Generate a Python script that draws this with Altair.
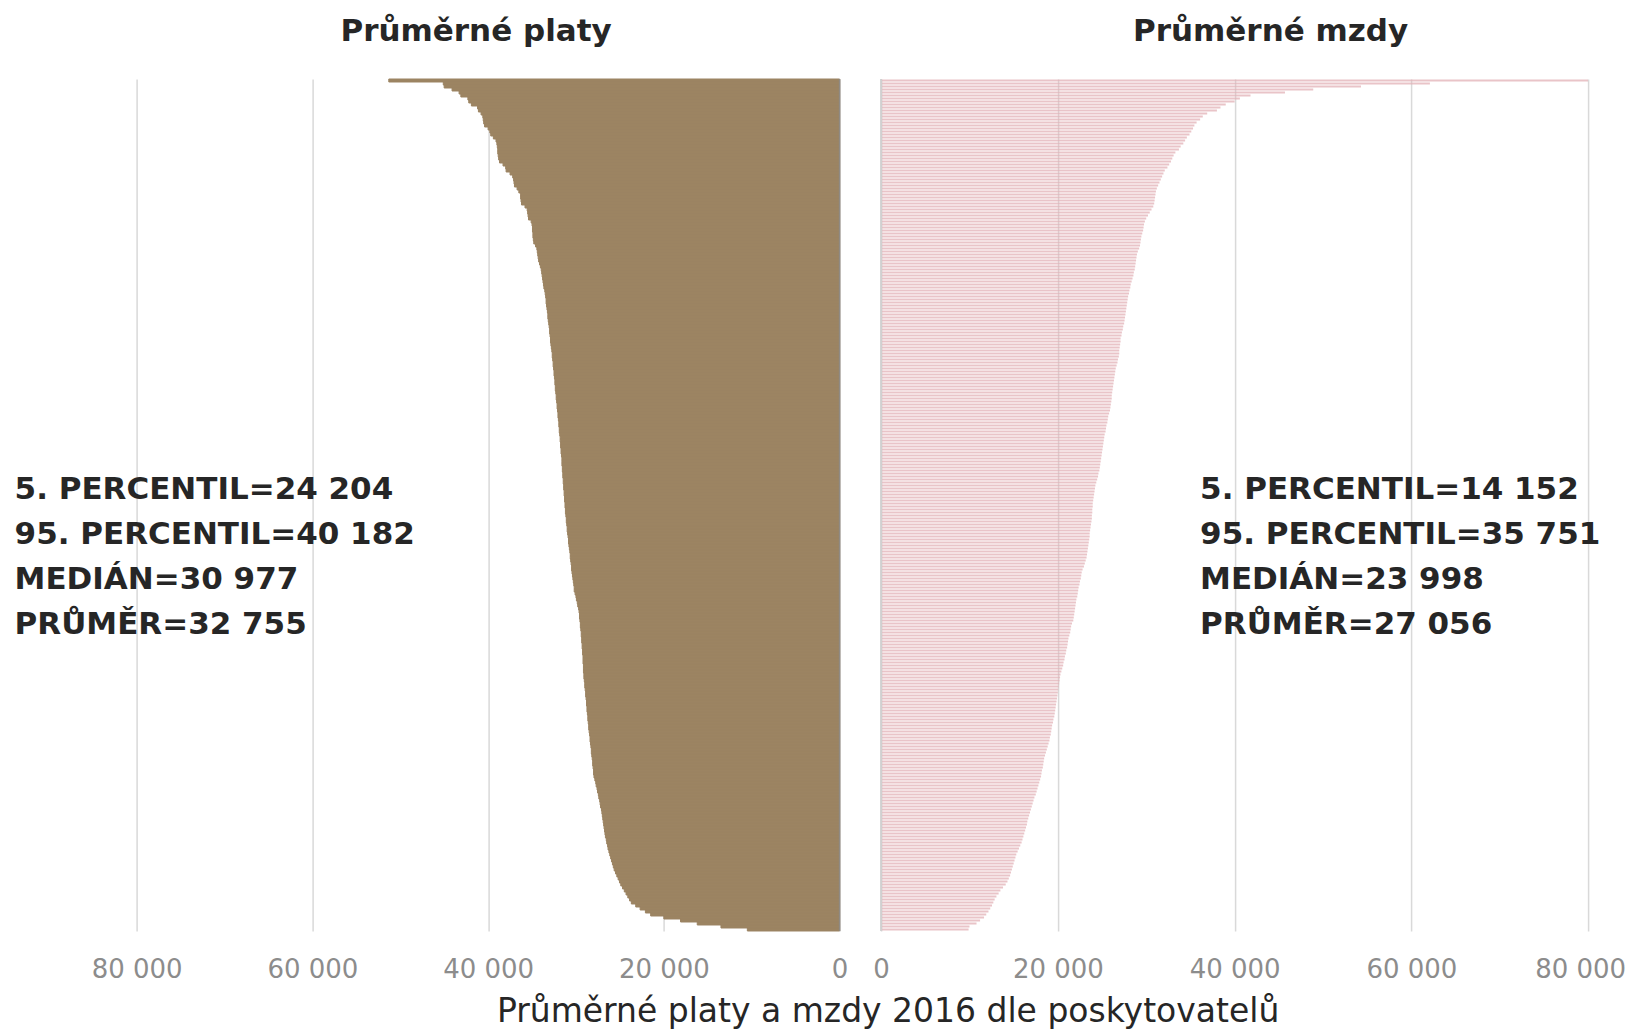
import altair as alt
import pandas as pd

# Average salaries by provider (left, "platy"), sorted descending
platy = [51300, 45100, 45000, 44100, 43300, 43100, 42300, 42200, 41900, 41200,
         41100, 40800, 40600, 40550, 40500, 40400, 40000, 39800, 39700, 39400,
         39100, 39000, 38950, 38900, 38900, 38850, 38800, 38700, 38300, 38000,
         37950, 37500, 37200, 37100, 37050, 37000, 36700, 36500, 36300, 36300,
         36250, 36200, 35800, 35550, 35500, 35450, 35400, 35100, 35000, 34950,
         34950, 34900, 34900, 34850, 34800, 34600, 34450, 34400, 34350, 34300,
         34250, 34150, 34050, 33950, 33900, 33850, 33800, 33750, 33700, 33650,
         33550, 33500, 33450, 33400, 33400, 33350, 33300, 33250, 33200, 33200,
         33150, 33100, 33050, 33000, 33000, 32950, 32900, 32900, 32850, 32800,
         32750, 32700, 32700, 32650, 32600, 32600, 32550, 32500, 32500, 32450,
         32400, 32400, 32350, 32350, 32300, 32250, 32250, 32200, 32150, 32150,
         32100, 32050, 32050, 32000, 31950, 31950, 31900, 31900, 31850, 31800,
         31800, 31750, 31750, 31700, 31700, 31650, 31600, 31600, 31600, 31550,
         31550, 31500, 31500, 31450, 31450, 31400, 31400, 31350, 31350, 31300,
         31300, 31250, 31250, 31200, 31200, 31150, 31100, 31100, 31050, 31000,
         31000, 30950, 30900, 30850, 30850, 30800, 30750, 30700, 30650, 30650,
         30600, 30550, 30500, 30500, 30450, 30400, 30350, 30300, 30250, 30200,
         30200, 30100, 30000, 29950, 29850, 29800, 29700, 29650, 29600, 29600,
         29550, 29500, 29500, 29450, 29400, 29400, 29350, 29350, 29300, 29300,
         29250, 29250, 29200, 29200, 29200, 29150, 29150, 29150, 29100, 29100,
         29050, 29000, 29000, 28950, 28900, 28900, 28850, 28800, 28800, 28750,
         28750, 28700, 28650, 28650, 28600, 28550, 28550, 28500, 28450, 28400,
         28400, 28350, 28300, 28250, 28250, 28200, 28150, 28100, 28100, 28050,
         28000, 28000, 27950, 27850, 27750, 27700, 27600, 27550, 27450, 27400,
         27300, 27250, 27200, 27100, 27050, 27000, 26950, 26900, 26850, 26800,
         26750, 26700, 26650, 26550, 26500, 26400, 26350, 26250, 26150, 26050,
         25950, 25850, 25750, 25650, 25500, 25350, 25200, 25050, 24900, 24700,
         24500, 24300, 24100, 23900, 23700, 23200, 22700, 22100, 21500, 20000,
         18100, 16200, 13500, 10500]

# Average wages by provider (right, "mzdy"), sorted descending
mzdy = [86000, 62100, 54300, 48900, 45700, 41800, 40600, 40000, 39000, 38400,
        38000, 36900, 36400, 36100, 35700, 35450, 35300, 35100, 34900, 34600,
        34400, 34200, 33900, 33700, 33300, 33100, 32950, 32800, 32600, 32400,
        32100, 31950, 31800, 31650, 31500, 31350, 31200, 31100, 31050, 31000,
        30950, 30900, 30800, 30600, 30400, 30200, 30000, 29850, 29750, 29700,
        29650, 29550, 29450, 29400, 29350, 29300, 29200, 29050, 28950, 28900,
        28850, 28800, 28750, 28700, 28600, 28550, 28450, 28350, 28250, 28200,
        28100, 28050, 27950, 27900, 27850, 27800, 27750, 27700, 27650, 27600,
        27550, 27500, 27400, 27350, 27250, 27200, 27100, 27100, 27050, 27000,
        26950, 26950, 26900, 26800, 26750, 26650, 26550, 26500, 26450, 26400,
        26350, 26300, 26250, 26200, 26150, 26100, 26100, 26050, 26000, 25950,
        25900, 25800, 25700, 25650, 25600, 25500, 25450, 25400, 25300, 25250,
        25200, 25150, 25100, 25050, 25000, 24950, 24900, 24850, 24800, 24750,
        24700, 24600, 24550, 24450, 24350, 24250, 24200, 24150, 24100, 24050,
        24000, 23950, 23950, 23900, 23900, 23850, 23850, 23800, 23750, 23700,
        23650, 23600, 23600, 23550, 23500, 23450, 23400, 23350, 23300, 23250,
        23150, 23050, 22950, 22800, 22700, 22650, 22600, 22500, 22450, 22350,
        22300, 22250, 22200, 22100, 22050, 22000, 21950, 21900, 21850, 21800,
        21750, 21600, 21500, 21450, 21400, 21300, 21200, 21150, 21100, 21050,
        20950, 20900, 20800, 20750, 20650, 20600, 20500, 20400, 20300, 20250,
        20200, 20150, 20100, 20050, 20000, 19950, 19900, 19850, 19800, 19750,
        19700, 19650, 19600, 19500, 19450, 19350, 19300, 19250, 19200, 19100,
        19050, 18950, 18850, 18750, 18650, 18550, 18450, 18400, 18350, 18300,
        18200, 18150, 18100, 18000, 17900, 17800, 17700, 17600, 17500, 17350,
        17250, 17150, 17050, 16950, 16850, 16750, 16650, 16550, 16500, 16400,
        16300, 16200, 16100, 16000, 15900, 15750, 15600, 15450, 15300, 15200,
        15100, 15000, 14900, 14800, 14700, 14600, 14450, 14300, 14100, 13800,
        13500, 13300, 13050, 12850, 12700, 12550, 12350, 12150, 11900, 11650,
        11200, 10800, 10000, 9900]

tick_values = [0, 20000, 40000, 60000, 80000]
stats_platy = ["5. PERCENTIL=24 204", "95. PERCENTIL=40 182", "MEDIÁN=30 977", "PRŮMĚR=32 755"]
stats_mzdy = ["5. PERCENTIL=14 152", "95. PERCENTIL=35 751", "MEDIÁN=23 998", "PRŮMĚR=27 056"]
title_left = "Průměrné platy"
title_right = "Průměrné mzdy"
title_bottom = "Průměrné platy a mzdy 2016 dle poskytovatelů"

FONT = "DejaVu Sans"
H = 852
WL = 703
WR = 707
label_expr = "replace(format(datum.value, ','), ',', ' ')"


def x_axis(last_offset=0):
    return alt.Axis(values=tick_values, labelExpr=label_expr, grid=True,
                    gridColor="#d9d9d9", gridWidth=1.5, domain=False, ticks=False,
                    labelFontSize=26, labelColor="#8c8c8c", labelFont=FONT,
                    labelFlush=False, labelPadding=26,
                    labelOffset={"condition": {"test": "datum.value === 80000",
                                               "value": last_offset}, "value": 0},
                    title=None)


df_l = pd.DataFrame({"rank": list(range(len(platy))), "value": platy})
df_r = pd.DataFrame({"rank": list(range(len(mzdy))), "value": mzdy})

xs_l = alt.Scale(domain=[0, 80000], reverse=True, nice=False)
xs_r = alt.Scale(domain=[0, 80000], nice=False)

left_bars = alt.Chart(df_l).mark_bar(color="#9c8462", stroke="#9c8462", strokeWidth=1).encode(
    x=alt.X("value:Q", scale=xs_l, axis=x_axis(0)),
    y=alt.Y("rank:O", axis=None, scale=alt.Scale(paddingInner=0, paddingOuter=0)),
)
left_zero = alt.Chart(pd.DataFrame({"x": [0]})).mark_rule(color="#8f8a84", strokeWidth=1.5).encode(
    x=alt.X("x:Q", scale=xs_l))
left_text = alt.Chart(pd.DataFrame({"t": ["\n".join(stats_platy)]})).mark_text(
    lineBreak="\n", lineHeight=45, align="left", baseline="middle", fontSize=31,
    fontWeight="bold", font=FONT, color="#262626").encode(
    text="t:N", x=alt.value(-122), y=alt.value(411))

left = alt.layer(left_bars, left_zero, left_text).properties(
    width=WL, height=H,
    title=alt.TitleParams(title_left, font=FONT, fontSize=31, fontWeight="bold",
                          color="#262626", frame="group", anchor="middle", dx=-12, offset=30))

right_bars = alt.Chart(df_r).mark_bar(color="#e2b0b5", opacity=0.75, clip=True).encode(
    x=alt.X("value:Q", scale=xs_r, axis=x_axis(-8)),
    y=alt.Y("rank:O", axis=None, scale=alt.Scale(paddingInner=0.3, paddingOuter=0.15)),
)
right_zero = alt.Chart(pd.DataFrame({"x": [0]})).mark_rule(color="#d0d0d0", strokeWidth=2).encode(
    x=alt.X("x:Q", scale=xs_r))
right_text = alt.Chart(pd.DataFrame({"t": ["\n".join(stats_mzdy)]})).mark_text(
    lineBreak="\n", lineHeight=45, align="left", baseline="middle", fontSize=31,
    fontWeight="bold", font=FONT, color="#262626").encode(
    text="t:N", x=alt.value(319), y=alt.value(411))

right = alt.layer(right_bars, right_zero, right_text).properties(
    width=WR, height=H,
    title=alt.TitleParams(title_right, font=FONT, fontSize=31, fontWeight="bold",
                          color="#262626", frame="group", anchor="middle", dx=36, offset=30))

chart = alt.HConcatChart(hconcat=[left, right], spacing=41.5, bounds="flush").properties(
    title=alt.TitleParams(title_bottom, orient="bottom", anchor="middle", font=FONT,
                          fontSize=33, fontWeight="normal", color="#262626", offset=13, dx=68),
    padding={"left": 6.6, "top": 8, "right": 0, "bottom": 0},
).configure_view(stroke=None)

chart.save("out.html", embed_options={"renderer": "svg", "actions": False})
